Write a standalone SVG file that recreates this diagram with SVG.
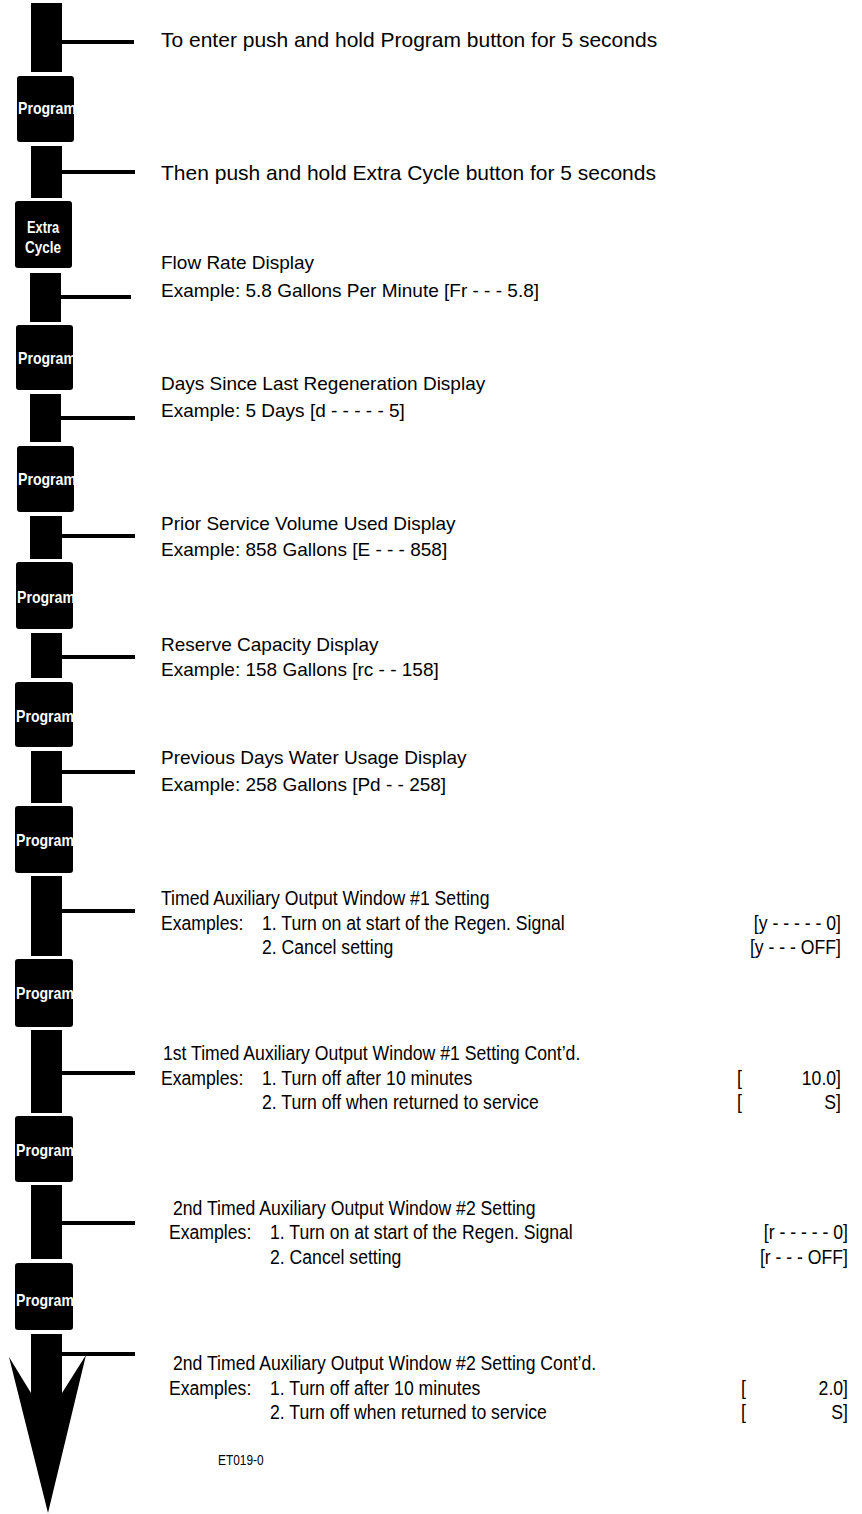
<svg xmlns="http://www.w3.org/2000/svg" width="862" height="1514" viewBox="0 0 862 1514">
<style>
.bar{fill:#000}
.btn{fill:#000}
.bt{fill:#fff;font-family:"Liberation Sans",Arial,sans-serif;font-size:17px;font-weight:bold}
.h{fill:#000;font-family:"Liberation Sans",Arial,sans-serif;font-size:21px}
.t{fill:#000;font-family:"Liberation Sans",Arial,sans-serif;font-size:19px}
.n{fill:#000;font-family:"Liberation Sans",Arial,sans-serif;font-size:21px}
.id{fill:#000;font-family:"Liberation Sans",Arial,sans-serif;font-size:14px}
</style>
<rect width="862" height="1514" fill="#fff"/>
<g id="spine">
<rect class="bar" x="31" y="3" width="31" height="69"/>
<rect class="bar" x="31" y="146" width="31" height="52"/>
<rect class="bar" x="30" y="273" width="31" height="49"/>
<rect class="bar" x="30" y="394" width="31" height="48"/>
<rect class="bar" x="30" y="516" width="32" height="43"/>
<rect class="bar" x="31" y="633" width="31" height="45"/>
<rect class="bar" x="31" y="751" width="31" height="52"/>
<rect class="bar" x="31" y="876" width="31" height="80"/>
<rect class="bar" x="31" y="1030" width="31" height="83"/>
<rect class="bar" x="31" y="1185" width="31" height="74"/>
<polygon class="bar" points="31,1334 62,1334 62,1393 86,1355 48,1513 9,1357 31,1393"/>
</g>
<g id="connectors">
<rect x="62" y="40" width="72" height="4"/>
<rect x="62" y="170" width="73" height="4"/>
<rect x="61" y="295" width="70" height="4"/>
<rect x="61" y="416" width="74" height="4"/>
<rect x="62" y="534" width="73" height="4"/>
<rect x="62" y="655" width="73" height="4"/>
<rect x="62" y="770" width="73" height="4"/>
<rect x="62" y="909" width="73" height="4"/>
<rect x="62" y="1071" width="73" height="4"/>
<rect x="62" y="1221" width="73" height="4"/>
<rect x="62" y="1352" width="73" height="4"/>
</g>
<g id="btn-program-1"><rect class="btn" x="17" y="76" width="57" height="66" rx="3"/><text class="bt" x="18" y="114" textLength="58" lengthAdjust="spacingAndGlyphs">Program</text></g>
<g id="btn-extra-cycle"><rect class="btn" x="15" y="201" width="57" height="67" rx="3"/><text class="bt" x="43" y="233" text-anchor="middle" font-size="17" textLength="32" lengthAdjust="spacingAndGlyphs">Extra</text><text class="bt" x="43" y="253" text-anchor="middle" font-size="17" textLength="36" lengthAdjust="spacingAndGlyphs">Cycle</text></g>
<g id="btn-program-2"><rect class="btn" x="16" y="325" width="57" height="65" rx="3"/><text class="bt" x="18" y="364" textLength="58" lengthAdjust="spacingAndGlyphs">Program</text></g>
<g id="btn-program-3"><rect class="btn" x="17" y="446" width="57" height="66" rx="3"/><text class="bt" x="18" y="485" textLength="58" lengthAdjust="spacingAndGlyphs">Program</text></g>
<g id="btn-program-4"><rect class="btn" x="16" y="562" width="57" height="67" rx="3"/><text class="bt" x="17" y="603" textLength="58" lengthAdjust="spacingAndGlyphs">Program</text></g>
<g id="btn-program-5"><rect class="btn" x="15" y="682" width="58" height="65" rx="3"/><text class="bt" x="16" y="722" textLength="58" lengthAdjust="spacingAndGlyphs">Program</text></g>
<g id="btn-program-6"><rect class="btn" x="15" y="806" width="58" height="67" rx="3"/><text class="bt" x="16" y="846" textLength="58" lengthAdjust="spacingAndGlyphs">Program</text></g>
<g id="btn-program-7"><rect class="btn" x="15" y="959" width="58" height="68" rx="3"/><text class="bt" x="16" y="999" textLength="58" lengthAdjust="spacingAndGlyphs">Program</text></g>
<g id="btn-program-8"><rect class="btn" x="15" y="1116" width="58" height="66" rx="3"/><text class="bt" x="16" y="1156" textLength="58" lengthAdjust="spacingAndGlyphs">Program</text></g>
<g id="btn-program-9"><rect class="btn" x="15" y="1263" width="58" height="67" rx="3"/><text class="bt" x="16" y="1306" textLength="58" lengthAdjust="spacingAndGlyphs">Program</text></g>

<g id="step-enter"><text class="h" x="161" y="47">To enter push and hold Program button for 5 seconds</text></g>
<g id="step-extra"><text class="h" x="161" y="180">Then push and hold Extra Cycle button for 5 seconds</text></g>
<g id="step-flow"><text class="t" x="161" y="269">Flow Rate Display</text><text class="t" x="161" y="297">Example: 5.8 Gallons Per Minute [Fr - - - 5.8]</text></g>
<g id="step-days"><text class="t" x="161" y="390">Days Since Last Regeneration Display</text><text class="t" x="161" y="417">Example: 5 Days [d - - - - - 5]</text></g>
<g id="step-prior"><text class="t" x="161" y="530">Prior Service Volume Used Display</text><text class="t" x="161" y="556">Example: 858 Gallons [E - - - 858]</text></g>
<g id="step-reserve"><text class="t" x="161" y="651">Reserve Capacity Display</text><text class="t" x="161" y="676">Example: 158 Gallons [rc - - 158]</text></g>
<g id="step-previous"><text class="t" x="161" y="764">Previous Days Water Usage Display</text><text class="t" x="161" y="791">Example: 258 Gallons [Pd - - 258]</text></g>

<g id="step-timed1">
<text class="n" transform="translate(161,905) scale(0.84,1)">Timed Auxiliary Output Window #1 Setting</text>
<text class="n" transform="translate(161,930) scale(0.84,1)">Examples:</text>
<text class="n" transform="translate(262,930) scale(0.84,1)">1. Turn on at start of the Regen. Signal</text>
<text class="n" transform="translate(841,930) scale(0.84,1)" text-anchor="end">[y - - - - - 0]</text>
<text class="n" transform="translate(262,954) scale(0.84,1)">2. Cancel setting</text>
<text class="n" transform="translate(841,954) scale(0.84,1)" text-anchor="end">[y - - - OFF]</text>
</g>
<g id="step-timed1-contd">
<text class="n" transform="translate(163,1060) scale(0.84,1)">1st Timed Auxiliary Output Window #1 Setting Cont’d.</text>
<text class="n" transform="translate(161,1085) scale(0.84,1)">Examples:</text>
<text class="n" transform="translate(262,1085) scale(0.84,1)">1. Turn off after 10 minutes</text>
<text class="n" transform="translate(737,1085) scale(0.84,1)">[</text>
<text class="n" transform="translate(841,1085) scale(0.84,1)" text-anchor="end">10.0]</text>
<text class="n" transform="translate(262,1109) scale(0.84,1)">2. Turn off when returned to service</text>
<text class="n" transform="translate(737,1109) scale(0.84,1)">[</text>
<text class="n" transform="translate(841,1109) scale(0.84,1)" text-anchor="end">S]</text>
</g>
<g id="step-timed2">
<text class="n" transform="translate(173,1215) scale(0.84,1)">2nd Timed Auxiliary Output Window #2 Setting</text>
<text class="n" transform="translate(169,1239) scale(0.84,1)">Examples:</text>
<text class="n" transform="translate(270,1239) scale(0.84,1)">1. Turn on at start of the Regen. Signal</text>
<text class="n" transform="translate(848,1239) scale(0.84,1)" text-anchor="end">[r - - - - - 0]</text>
<text class="n" transform="translate(270,1264) scale(0.84,1)">2. Cancel setting</text>
<text class="n" transform="translate(848,1264) scale(0.84,1)" text-anchor="end">[r - - - OFF]</text>
</g>
<g id="step-timed2-contd">
<text class="n" transform="translate(173,1370) scale(0.84,1)">2nd Timed Auxiliary Output Window #2 Setting Cont’d.</text>
<text class="n" transform="translate(169,1395) scale(0.84,1)">Examples:</text>
<text class="n" transform="translate(270,1395) scale(0.84,1)">1. Turn off after 10 minutes</text>
<text class="n" transform="translate(741,1395) scale(0.84,1)">[</text>
<text class="n" transform="translate(848,1395) scale(0.84,1)" text-anchor="end">2.0]</text>
<text class="n" transform="translate(270,1419) scale(0.84,1)">2. Turn off when returned to service</text>
<text class="n" transform="translate(741,1419) scale(0.84,1)">[</text>
<text class="n" transform="translate(848,1419) scale(0.84,1)" text-anchor="end">S]</text>
</g>
<g id="label"><text class="id" transform="translate(218,1465) scale(0.85,1)">ET019-0</text></g>
</svg>
